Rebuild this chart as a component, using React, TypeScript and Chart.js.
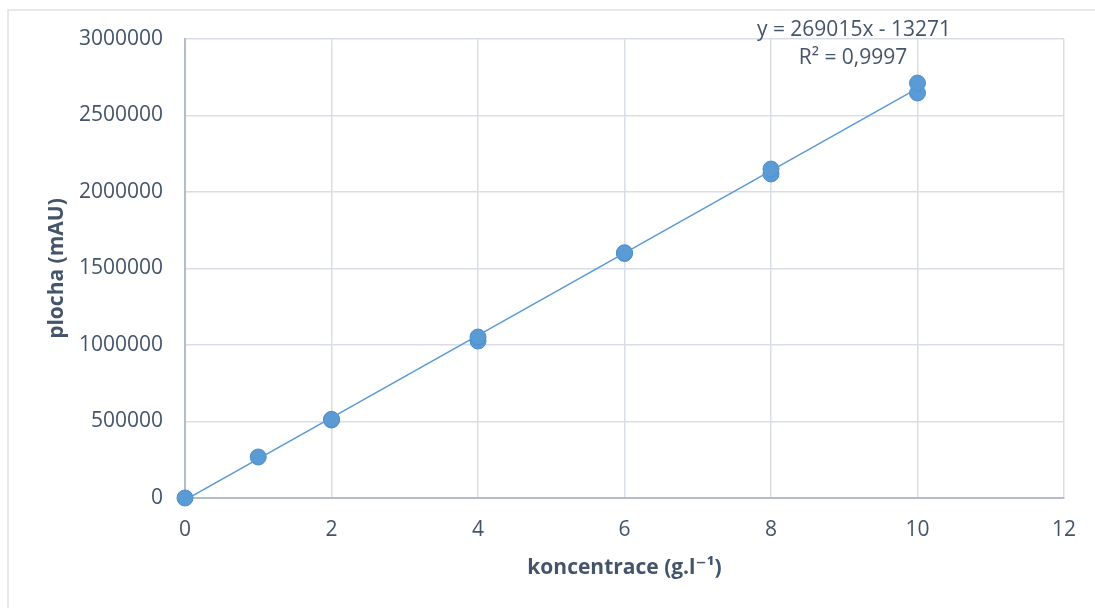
import React, { useEffect, useRef } from "react";
import { Chart, registerables } from "chart.js";

Chart.register(...registerables);

const concentrations = [0, 1, 2, 2, 4, 4, 6, 6, 8, 8, 10, 10];
const areas = [0, 268000, 510000, 514000, 1026000, 1052000, 1598000, 1603000, 2118000, 2150000, 2647000, 2712000];
const trendSlope = 269015;
const trendIntercept = -13271;
const trendRange = [0, 10];
const equationLabel = "y = 269015x - 13271";
const r2Label = "R² = 0,9997";
const xTitle = "koncentrace (g.l⁻¹)";
const yTitle = "plocha (mAU)";

const TEXT = "#44546a";
const GRID = "#d9dde5";
const AXIS = "#b4bccb";
const BLUE = "#5b9bd5";
const FONT = "'Open Sans', 'DejaVu Sans', sans-serif";

export default function App() {
  const ref = useRef<HTMLCanvasElement | null>(null);

  useEffect(() => {
    document.body.style.margin = "0";
    const canvas = ref.current;
    if (!canvas) return;

    const framePlugin = {
      id: "frame",
      beforeDraw(chart: any) {
        const ctx = chart.ctx;
        ctx.save();
        ctx.fillStyle = "#ffffff";
        ctx.fillRect(0, 0, chart.width, chart.height);
        ctx.strokeStyle = "#dde1e8";
        ctx.lineWidth = 1.5;
        ctx.beginPath();
        ctx.moveTo(8, chart.height);
        ctx.lineTo(8, 10);
        ctx.lineTo(chart.width, 10);
        ctx.stroke();
        ctx.restore();
      },
      afterDraw(chart: any) {
        const ctx = chart.ctx;
        ctx.save();
        ctx.fillStyle = TEXT;
        ctx.font = `21px ${FONT}`;
        ctx.textAlign = "center";
        ctx.textBaseline = "middle";
        ctx.fillText(equationLabel, 854, 30);
        ctx.fillText(r2Label, 853, 58);
        ctx.restore();
      },
    };

    const chart = new Chart(canvas, {
      type: "scatter",
      data: {
        datasets: [
          {
            type: "line",
            label: "trend",
            data: trendRange.map((x) => ({ x, y: trendSlope * x + trendIntercept })),
            borderColor: BLUE,
            borderWidth: 1.5,
            pointRadius: 0,
            fill: false,
            order: 0,
          } as any,
          {
            label: "plocha",
            data: concentrations.map((x, i) => ({ x, y: areas[i] })),
            backgroundColor: BLUE,
            borderColor: "#4f8fcc",
            borderWidth: 1,
            pointRadius: 8,
            clip: false,
            order: 1,
          } as any,
        ],
      },
      options: {
        responsive: false,
        animation: false,
        layout: { padding: { top: 39, right: 31, left: 0, bottom: 0 } },
        plugins: {
          legend: { display: false },
          tooltip: { enabled: false },
        },
        scales: {
          x: {
            type: "linear",
            min: 0,
            max: 12,
            ticks: {
              stepSize: 2,
              color: TEXT,
              font: { family: FONT, size: 21 },
              padding: 19,
            },
            grid: { color: GRID, lineWidth: 1.5, drawTicks: false, tickLength: 0 },
            border: { color: AXIS, width: 2 },
            title: {
              display: true,
              text: xTitle,
              color: TEXT,
              font: { family: FONT, size: 21, weight: "bold" },
              padding: { top: 0, bottom: 27 },
            },
            afterFit(scale: any) {
              scale.height = 110;
            },
          },
          y: {
            type: "linear",
            min: 0,
            max: 3000000,
            ticks: {
              stepSize: 500000,
              color: TEXT,
              font: { family: FONT, size: 21 },
              padding: 22,
              callback: (v: any) => String(v),
            },
            grid: { color: GRID, lineWidth: 1.5, drawTicks: false, tickLength: 0 },
            border: { color: AXIS, width: 2 },
            title: {
              display: true,
              text: yTitle,
              color: TEXT,
              font: { family: FONT, size: 21, weight: "bold" },
              padding: { top: 44, bottom: 0 },
            },
            afterFit(scale: any) {
              scale.width = 185;
            },
          },
        },
      } as any,
      plugins: [framePlugin],
    });

    return () => chart.destroy();
  }, []);

  return (
    <div style={{ position: "absolute", left: 0, top: 0, width: 1095, height: 608 }}>
      <canvas ref={ref} width={1095} height={608} style={{ width: 1095, height: 608 }} />
    </div>
  );
}
